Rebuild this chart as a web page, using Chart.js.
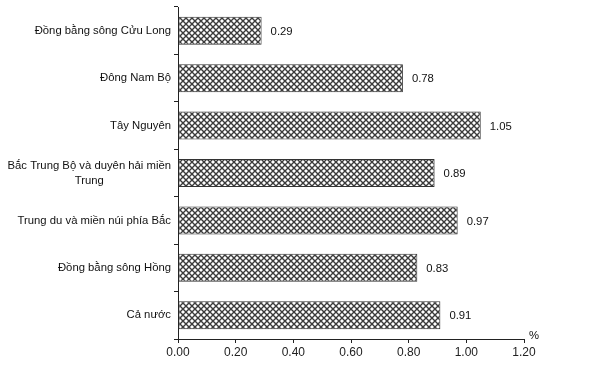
<!DOCTYPE html>
<html>
<head>
<meta charset="utf-8">
<script src="https://cdn.jsdelivr.net/npm/chart.js@4"></script>
<style>
	html, body { margin: 0; padding: 0; background: #fff; }
	#wrap { width: 602px; height: 368px; }
</style>
</head>
<body>
<div id="wrap"><canvas id="chart" width="602" height="368"></canvas></div>
<script>
// Chart data
const categories = [
	["Đồng bằng sông Cửu Long"],
	["Đông Nam Bộ"],
	["Tây Nguyên"],
	["Bắc Trung Bộ và duyên hải miền", "Trung"],
	["Trung du và miền núi phía Bắc"],
	["Đồng bằng sông Hồng"],
	["Cả nước"],
];
const values = [0.29, 0.78, 1.05, 0.89, 0.97, 0.83, 0.91];
const xTicks = [0, 0.2, 0.4, 0.6, 0.8, 1.0, 1.2];
const unitLabel = "%";

const FONT = "Liberation Sans, Arial, sans-serif";

// crosshatch fill
function makeHatch() {
	const c = document.createElement("canvas");
	c.width = 6;
	c.height = 6;
	const g = c.getContext("2d");
	g.fillStyle = "#fff";
	g.fillRect(0, 0, 6, 6);
	g.strokeStyle = "#3a3a3a";
	g.lineWidth = 1.4;
	g.beginPath();
	g.moveTo(-1, -1);
	g.lineTo(7, 7);
	g.moveTo(-1, 7);
	g.lineTo(7, -1);
	g.stroke();
	return g.createPattern(c, "repeat");
}

// category labels + value labels + unit
const labelPlugin = {
	id: "labels",
	afterDatasetsDraw(chart) {
		const ctx = chart.ctx;
		const yScale = chart.scales.y;
		const xScale = chart.scales.x;
		ctx.save();
		ctx.font = "11.3px " + FONT;
		ctx.fillStyle = "#111";
		ctx.textBaseline = "middle";

		// category names, right aligned, wrapped lines centered
		categories.forEach(function (lines, i) {
			const y = yScale.getPixelForValue(i);
			const right = yScale.right - 7;
			const lh = 15;
			const widest = Math.max.apply(null, lines.map(function (l) { return ctx.measureText(l).width; }));
			const cx = right - widest / 2;
			ctx.textAlign = "center";
			lines.forEach(function (l, j) {
				ctx.fillText(l, cx, y + (j - (lines.length - 1) / 2) * lh);
			});
		});

		// values at the bar ends
		ctx.textAlign = "left";
		const meta = chart.getDatasetMeta(0);
		meta.data.forEach(function (bar, i) {
			ctx.fillText(values[i].toFixed(2), bar.x + 9, bar.y + 1);
		});

		// unit
		ctx.fillText(unitLabel, xScale.right + 5, xScale.top - 3);
		ctx.restore();
	},
};

const ctx = document.getElementById("chart").getContext("2d");
new Chart(ctx, {
	type: "bar",
	data: {
		labels: categories.map(function (c) { return c.join(" "); }),
		datasets: [
			{
				data: values,
				backgroundColor: makeHatch(),
				borderColor: "#333",
				borderWidth: 1,
				borderSkipped: false,
				categoryPercentage: 1,
				barPercentage: 0.59,
			},
		],
	},
	options: {
		indexAxis: "y",
		responsive: false,
		animation: false,
		layout: {
			padding: { top: 7, right: 78, left: 0, bottom: 0 },
		},
		plugins: {
			legend: { display: false },
			tooltip: { enabled: false },
		},
		scales: {
			x: {
				min: 0,
				max: 1.2,
				afterBuildTicks(scale) {
					scale.ticks = xTicks.map(function (v) { return { value: v }; });
				},
				afterFit(scale) {
					scale.height = 29;
				},
				border: { color: "#222", width: 1 },
				grid: {
					drawOnChartArea: false,
					drawTicks: true,
					tickLength: 4,
					color: "#222",
				},
				ticks: {
					color: "#222",
					font: { family: FONT, size: 12 },
					padding: 2,
					callback: function (v) { return Number(v).toFixed(2); },
				},
			},
			y: {
				afterFit(scale) {
					scale.width = 178;
				},
				border: { color: "#222", width: 1 },
				grid: {
					offset: true,
					drawOnChartArea: false,
					drawTicks: true,
					tickLength: 4,
					color: "#222",
				},
				ticks: { display: false },
			},
		},
	},
	plugins: [labelPlugin],
});
</script>
</body>
</html>
